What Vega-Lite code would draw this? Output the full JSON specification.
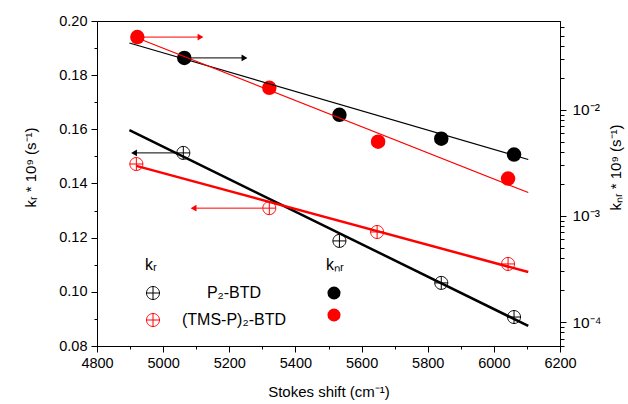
{
  "$schema": "https://vega.github.io/schema/vega-lite/v6.json",
  "width": 463,
  "height": 325,
  "autosize": {"type": "none"},
  "padding": {"left": 97, "top": 21, "right": 68, "bottom": 58},
  "background": "white",
  "config": {
    "view": {"stroke": "black", "strokeWidth": 1},
    "font": "Liberation Sans",
    "axis": {
      "grid": false,
      "domainColor": "black",
      "tickColor": "black",
      "labelColor": "black",
      "titleColor": "black",
      "labelFont": "Liberation Sans",
      "titleFont": "Liberation Sans",
      "labelFontSize": 14.5,
      "titleFontSize": 15,
      "titleFontWeight": "normal"
    },
    "legend": {
      "labelFont": "Liberation Sans",
      "titleFont": "Liberation Sans",
      "labelColor": "black",
      "titleColor": "black",
      "titleFontWeight": "normal"
    }
  },
  "datasets": {
    "kr_points": [
      {"compound": "P₂-BTD", "shift": 5061, "kr": 0.1513},
      {"compound": "P₂-BTD", "shift": 5533, "kr": 0.1188},
      {"compound": "P₂-BTD", "shift": 5841, "kr": 0.1033},
      {"compound": "P₂-BTD", "shift": 6061, "kr": 0.0907},
      {"compound": "(TMS-P)₂-BTD", "shift": 4919, "kr": 0.1472},
      {"compound": "(TMS-P)₂-BTD", "shift": 5321, "kr": 0.1309},
      {"compound": "(TMS-P)₂-BTD", "shift": 5647, "kr": 0.1221},
      {"compound": "(TMS-P)₂-BTD", "shift": 6043, "kr": 0.1103}
    ],
    "kr_fits": [
      {"compound": "P₂-BTD", "shift": 4898, "kr": 0.1597},
      {"compound": "P₂-BTD", "shift": 6104, "kr": 0.0874},
      {"compound": "(TMS-P)₂-BTD", "shift": 4919, "kr": 0.1465},
      {"compound": "(TMS-P)₂-BTD", "shift": 6104, "kr": 0.1073}
    ],
    "kr_arrows": [
      {"compound": "P₂-BTD", "shift": 5040, "shift_end": 4912, "kr": 0.1513},
      {"compound": "(TMS-P)₂-BTD", "shift": 5300, "shift_end": 5092, "kr": 0.1309}
    ],
    "kr_heads": [
      {"compound": "P₂-BTD", "shift": 4912, "kr": 0.1513},
      {"compound": "(TMS-P)₂-BTD", "shift": 5092, "kr": 0.1309}
    ],
    "knr_points": [
      {"compound": "P₂-BTD", "shift": 5064, "knr": 0.0308},
      {"compound": "P₂-BTD", "shift": 5533, "knr": 0.00897},
      {"compound": "P₂-BTD", "shift": 5841, "knr": 0.00534},
      {"compound": "P₂-BTD", "shift": 6061, "knr": 0.00378},
      {"compound": "(TMS-P)₂-BTD", "shift": 4922, "knr": 0.0484},
      {"compound": "(TMS-P)₂-BTD", "shift": 5321, "knr": 0.0161},
      {"compound": "(TMS-P)₂-BTD", "shift": 5650, "knr": 0.00501},
      {"compound": "(TMS-P)₂-BTD", "shift": 6043, "knr": 0.00225}
    ],
    "knr_fits": [
      {"compound": "P₂-BTD", "shift": 4898, "knr": 0.0426},
      {"compound": "P₂-BTD", "shift": 6104, "knr": 0.0034},
      {"compound": "(TMS-P)₂-BTD", "shift": 4922, "knr": 0.0474},
      {"compound": "(TMS-P)₂-BTD", "shift": 6104, "knr": 0.00166}
    ],
    "knr_arrows": [
      {"compound": "P₂-BTD", "shift": 5085, "shift_end": 5246, "knr": 0.0308},
      {"compound": "(TMS-P)₂-BTD", "shift": 4942, "shift_end": 5113, "knr": 0.0484}
    ],
    "knr_heads": [
      {"compound": "P₂-BTD", "shift": 5246, "knr": 0.0308},
      {"compound": "(TMS-P)₂-BTD", "shift": 5113, "knr": 0.0484}
    ]
  },
  "encoding": {
    "x": {
      "field": "shift",
      "type": "quantitative",
      "scale": {"domain": [4800, 6200], "nice": false, "zero": false},
      "axis": {
        "title": "Stokes shift (cm⁻¹)",
        "values": [4800, 4900, 5000, 5100, 5200, 5300, 5400, 5500, 5600, 5700, 5800, 5900, 6000, 6100, 6200],
        "format": "d",
        "labelExpr": "datum.value % 200 === 0 ? datum.label : ''",
        "tickSize": {"condition": {"test": "datum.value % 200 === 0", "value": 6}, "value": 3},
        "labelPadding": 4,
        "titlePadding": 15,
        "labelFlush": false,
        "labelOverlap": false
      }
    }
  },
  "layer": [
    {
      "encoding": {
        "y": {
          "field": "kr",
          "type": "quantitative",
          "scale": {"domain": [0.08, 0.2], "nice": false, "zero": false},
          "axis": {
            "orient": "left",
            "title": "kᵣ * 10⁹ (s⁻¹)",
            "values": [0.08, 0.09, 0.1, 0.11, 0.12, 0.13, 0.14, 0.15, 0.16, 0.17, 0.18, 0.19, 0.2],
            "format": ".2f",
            "labelExpr": "round(datum.value * 100) % 2 === 0 ? datum.label : ''",
            "tickSize": {"condition": {"test": "round(datum.value * 100) % 2 === 0", "value": 6}, "value": 3},
            "labelPadding": 4,
            "labelFlush": false,
            "labelOverlap": false,
            "titleAngle": 270,
            "titleX": -67,
            "titleY": 146,
            "titleAlign": "center",
            "titleBaseline": "middle"
          }
        },
        "color": {
          "field": "compound",
          "type": "nominal",
          "scale": {"domain": ["P₂-BTD", "(TMS-P)₂-BTD"], "range": ["black", "red"]},
          "legend": null
        }
      },
      "layer": [
        {
          "data": {"name": "kr_points"},
          "mark": {
            "type": "point",
            "shape": "M-1,0A1,1,0,1,0,1,0A1,1,0,1,0,-1,0ZM-1,0L1,0M0,-1L0,1",
            "filled": false,
            "size": 169,
            "strokeWidth": 1,
            "opacity": 1
          },
          "encoding": {
            "color": {"value": null},
            "stroke": {
              "field": "compound",
              "type": "nominal",
              "sort": ["P₂-BTD", "(TMS-P)₂-BTD"],
              "scale": {"range": ["black", "red"]},
              "legend": {
                "orient": "none",
                "legendX": 48,
                "legendY": 236,
                "padding": 0,
                "title": "kᵣ",
                "titleFontSize": 16,
                "titlePadding": 12,
                "symbolType": "M-1,0A1,1,0,1,0,1,0A1,1,0,1,0,-1,0ZM-1,0L1,0M0,-1L0,1",
                "symbolSize": 169,
                "symbolStrokeWidth": 1,
                "symbolFillColor": "transparent",
                "labelFontSize": 16,
                "labelAlign": "center",
                "labelOffset": 73,
                "rowPadding": 9
              }
            }
          }
        },
        {
          "data": {"name": "kr_fits"},
          "mark": {"type": "line", "strokeWidth": 2.5},
          "encoding": {"detail": {"field": "compound"}}
        },
        {
          "data": {"name": "kr_arrows"},
          "mark": {"type": "rule", "strokeWidth": 1},
          "encoding": {"x2": {"field": "shift_end"}}
        },
        {
          "data": {"name": "kr_heads"},
          "mark": {"type": "point", "shape": "triangle-left", "filled": true, "size": 45, "opacity": 1}
        }
      ]
    },
    {
      "encoding": {
        "y": {
          "field": "knr",
          "type": "quantitative",
          "scale": {"type": "log", "domain": [0.0000595, 0.0686], "nice": false},
          "axis": {
            "orient": "right",
            "title": "kₙᵣ * 10⁹ (s⁻¹)",
            "values": [0.00006, 0.00007, 0.00008, 0.00009, 0.0001, 0.0002, 0.0003, 0.0004, 0.0005, 0.0006, 0.0007, 0.0008, 0.0009, 0.001, 0.002, 0.003, 0.004, 0.005, 0.006, 0.007, 0.008, 0.009, 0.01, 0.02, 0.03, 0.04, 0.05, 0.06],
            "labelExpr": "abs(datum.value - 0.01) < 1e-9 ? '10⁻²' : abs(datum.value - 0.001) < 1e-10 ? '10⁻³' : abs(datum.value - 0.0001) < 1e-11 ? '10⁻⁴' : ''",
            "tickSize": {"condition": {"test": "abs(datum.value - 0.01) < 1e-9 || abs(datum.value - 0.001) < 1e-10 || abs(datum.value - 0.0001) < 1e-11", "value": 6}, "value": 4},
            "labelPadding": 6,
            "labelFontSize": 15.5,
            "labelFlush": false,
            "labelOverlap": false,
            "titleAngle": 270,
            "titleX": 55,
            "titleY": 146,
            "titleAlign": "center",
            "titleBaseline": "middle"
          }
        },
        "color": {
          "field": "compound",
          "type": "nominal",
          "scale": {"domain": ["P₂-BTD", "(TMS-P)₂-BTD"], "range": ["black", "red"]},
          "legend": null
        }
      },
      "layer": [
        {
          "data": {"name": "knr_points"},
          "mark": {"type": "point", "shape": "circle", "filled": true, "size": 210, "opacity": 1, "strokeWidth": 0},
          "encoding": {
            "color": {"value": null},
            "fill": {
              "field": "compound",
              "type": "nominal",
              "sort": ["P₂-BTD", "(TMS-P)₂-BTD"],
              "scale": {"range": ["black", "red"]},
              "legend": {
                "orient": "none",
                "legendX": 229,
                "legendY": 236,
                "padding": 0,
                "title": "kₙᵣ",
                "titleFontSize": 16,
                "titlePadding": 12,
                "symbolType": "circle",
                "symbolSize": 170,
                "symbolStrokeWidth": 0,
                "labelExpr": "''",
                "labelFontSize": 16,
                "rowPadding": 6
              }
            }
          }
        },
        {
          "data": {"name": "knr_fits"},
          "mark": {"type": "line", "strokeWidth": 1.2},
          "encoding": {"detail": {"field": "compound"}}
        },
        {
          "data": {"name": "knr_arrows"},
          "mark": {"type": "rule", "strokeWidth": 1},
          "encoding": {"x2": {"field": "shift_end"}}
        },
        {
          "data": {"name": "knr_heads"},
          "mark": {"type": "point", "shape": "triangle-right", "filled": true, "size": 45, "opacity": 1}
        }
      ]
    }
  ],
  "resolve": {"scale": {"y": "independent"}}
}
